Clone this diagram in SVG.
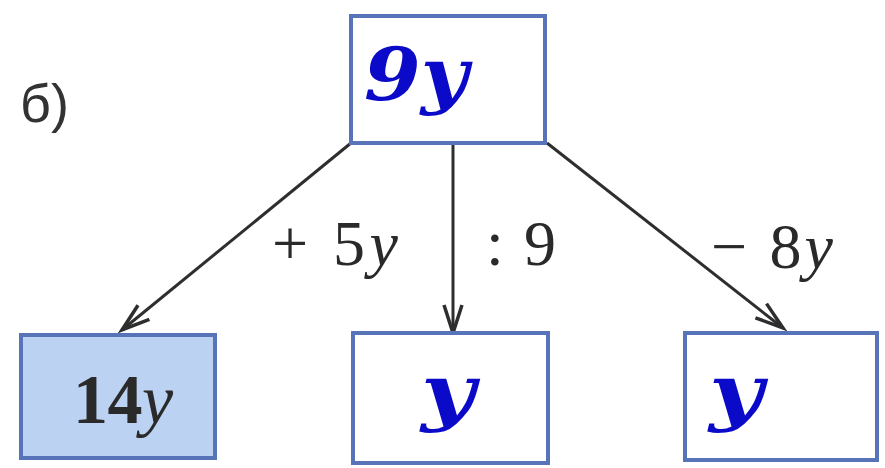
<svg xmlns="http://www.w3.org/2000/svg" width="885" height="468" viewBox="0 0 885 468">
<style>
.box{fill:#ffffff;stroke:#5874b8;stroke-width:4}
.shaded{fill:#bcd2f2}
.blue{font-family:"DejaVu Serif",serif;font-weight:bold;font-style:italic;fill:#0a0ac8}
.lbl{font-family:"Liberation Serif",serif;font-size:64px;fill:#2a2a2a}
.edge{stroke:#2e2e2e;stroke-width:3;fill:none}
</style>
<defs>
<marker id="ah" markerUnits="userSpaceOnUse" markerWidth="40" markerHeight="30" viewBox="-32 -15 40 30" refX="0" refY="0" orient="auto" overflow="visible">
<path d="M-28,-9 L0,0 L-28,9" fill="none" stroke="#2e2e2e" stroke-width="3.5"/>
</marker>
</defs>
<rect width="885" height="468" fill="#ffffff"/>
<text x="20" y="122" font-family="Liberation Sans, sans-serif" font-size="54" fill="#333333">б)</text>
<g id="connectors">
<line class="edge" x1="351" y1="143" x2="122" y2="330" marker-end="url(#ah)"/>
<line class="edge" x1="453" y1="143" x2="453" y2="333" marker-end="url(#ah)"/>
<line class="edge" x1="547" y1="143" x2="783" y2="328" marker-end="url(#ah)"/>
<text class="lbl" x="272" y="265" textLength="126">+ 5<tspan font-style="italic">y</tspan></text>
<text class="lbl" x="486" y="265" textLength="70">: 9</text>
<text class="lbl" x="711" y="268" textLength="122">− 8<tspan font-style="italic">y</tspan></text>
</g>
<g id="n-top">
<rect class="box" x="351" y="16" width="194" height="127"/>
<text class="blue" x="364" y="100" font-size="72" textLength="104" lengthAdjust="spacingAndGlyphs">9y</text>
</g>
<g id="n-left">
<rect class="box shaded" x="21" y="335" width="194" height="123"/>
<text x="73" y="423" font-family="Liberation Serif, serif" font-size="70" font-weight="bold" fill="#2a2a2a" textLength="100">14<tspan font-style="italic" font-weight="normal">y</tspan></text>
</g>
<g id="n-mid">
<rect class="box" x="353" y="333" width="195" height="130"/>
<text class="blue" x="421" y="417" font-size="72" textLength="54" lengthAdjust="spacingAndGlyphs">y</text>
</g>
<g id="n-right">
<rect class="box" x="685" y="333" width="192" height="127"/>
<text class="blue" x="709" y="417" font-size="72" textLength="54" lengthAdjust="spacingAndGlyphs">y</text>
</g>
</svg>
